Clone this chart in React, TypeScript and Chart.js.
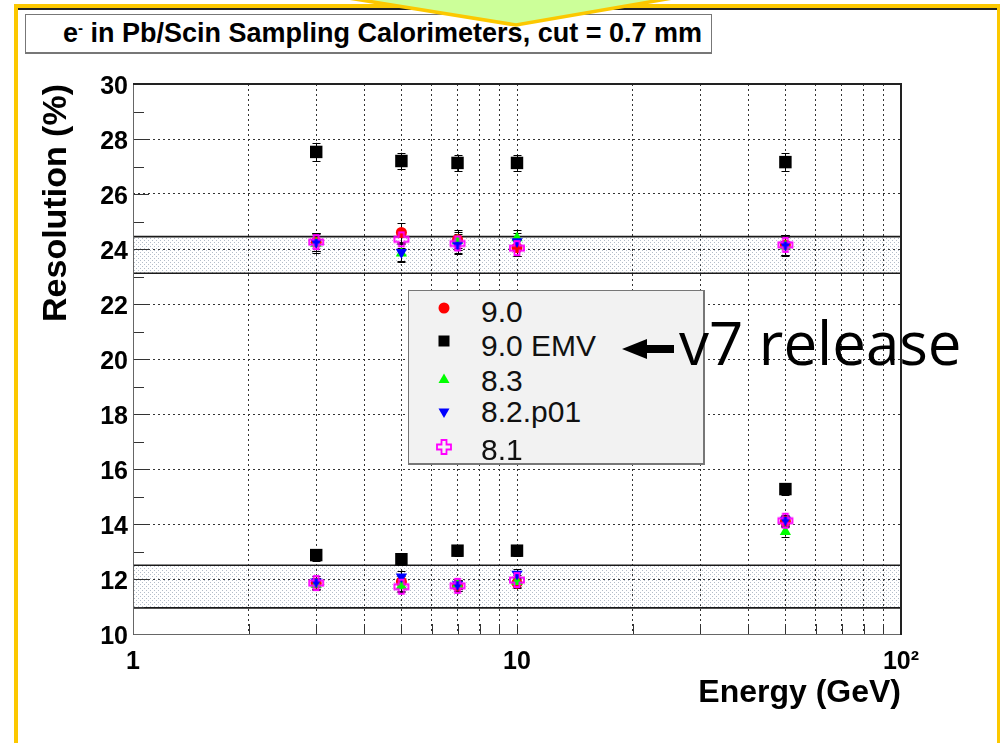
import React, { useEffect, useRef } from 'react';
import { Chart, registerables } from 'chart.js';

Chart.register(...registerables);

// ---------------- data ----------------
const energies = [3, 5, 7, 10, 50];
const seriesNames = ['9.0', '9.0 EMV', '8.3', '8.2.p01', '8.1'];

const res90Upper = [24.25, 24.6, 24.35, 24.05, 24.15];
const res90Lower = [11.85, 11.9, 11.75, 11.85, 14.1];
const resEmvUpper = [27.53, 27.2, 27.13, 27.13, 27.16];
const resEmvLower = [12.87, 12.72, 13.03, 13.03, 15.27];
const res83Upper = [24.2, 23.85, 24.3, 24.4, 24.1];
const res83Lower = [11.8, 11.75, 11.8, 11.9, 13.72];
const res82Upper = [24.25, 23.88, 24.15, 24.27, 24.15];
const res82Lower = [11.9, 12.08, 11.8, 12.18, 14.15];
const res81Upper = [24.25, 24.35, 24.2, 24.03, 24.15];
const res81Lower = [11.85, 11.72, 11.75, 11.96, 14.12];

const errUpper = [0.33, 0.33, 0.33, 0.3, 0.35];
const errLower = [0.2, 0.2, 0.18, 0.18, 0.18];
const errEmvUpper = [0.33, 0.3, 0.3, 0.3, 0.32];
const errEmvLower = [0.22, 0.2, 0.2, 0.2, 0.2];

const bandUpper = [23.12, 24.45];
const bandLower = [10.95, 12.5];

const xTickValues = [1, 2, 3, 4, 5, 6, 7, 8, 9, 10, 20, 30, 40, 50, 60, 70, 80, 90, 100];
const xTickLabels: Record<number, string> = { 1: '1', 10: '10', 100: '10\u00B2' };
const yTickValues = [10, 12, 14, 16, 18, 20, 22, 24, 26, 28, 30];
const yMinorValues = [11, 13, 15, 17, 19, 21, 23, 25, 27, 29];

const FONT = '"Liberation Sans", Arial, Helvetica, sans-serif';

function makeOpenCross(color: string): HTMLCanvasElement {
  const c = document.createElement('canvas');
  c.width = 18;
  c.height = 18;
  const g = c.getContext('2d')!;
  const cx = 9, cy = 9, L = 7, w = 2.5;
  g.beginPath();
  g.moveTo(cx - w, cy - L);
  g.lineTo(cx + w, cy - L);
  g.lineTo(cx + w, cy - w);
  g.lineTo(cx + L, cy - w);
  g.lineTo(cx + L, cy + w);
  g.lineTo(cx + w, cy + w);
  g.lineTo(cx + w, cy + L);
  g.lineTo(cx - w, cy + L);
  g.lineTo(cx - w, cy + w);
  g.lineTo(cx - L, cy + w);
  g.lineTo(cx - L, cy - w);
  g.lineTo(cx - w, cy - w);
  g.closePath();
  g.strokeStyle = color;
  g.lineWidth = 1.8;
  g.stroke();
  return c;
}

function makeDotPattern(ctx: CanvasRenderingContext2D) {
  const c = document.createElement('canvas');
  c.width = 4;
  c.height = 4;
  const g = c.getContext('2d')!;
  g.fillStyle = 'rgba(130,145,165,0.6)';
  g.fillRect(0, 0, 1, 1);
  g.fillRect(2, 2, 1, 1);
  return ctx.createPattern(c, 'repeat');
}

const rootPlugin = {
  id: 'rootDecor',
  beforeDatasetsDraw(chart: any) {
    const { ctx, chartArea: a, scales } = chart;
    const x = scales.x, y = scales.y;
    ctx.save();
    // bands
    const pat = makeDotPattern(ctx);
    [bandUpper, bandLower].forEach((b) => {
      const yTop = y.getPixelForValue(b[1]);
      const yBot = y.getPixelForValue(b[0]);
      if (pat) {
        ctx.fillStyle = pat;
        ctx.fillRect(a.left, yTop, a.right - a.left, yBot - yTop);
      }
      ctx.strokeStyle = '#1a1a1a';
      ctx.lineWidth = 1.6;
      ctx.beginPath();
      ctx.moveTo(a.left, yTop);
      ctx.lineTo(a.right, yTop);
      ctx.moveTo(a.left, yBot);
      ctx.lineTo(a.right, yBot);
      ctx.stroke();
    });
    // ticks
    ctx.strokeStyle = '#333';
    ctx.lineWidth = 1;
    ctx.beginPath();
    yTickValues.forEach((v) => {
      const py = Math.round(y.getPixelForValue(v)) + 0.5;
      ctx.moveTo(a.left, py);
      ctx.lineTo(a.left + 16, py);
    });
    yMinorValues.forEach((v) => {
      const py = Math.round(y.getPixelForValue(v)) + 0.5;
      ctx.moveTo(a.left, py);
      ctx.lineTo(a.left + 11, py);
    });
    xTickValues.forEach((v) => {
      const px = Math.round(x.getPixelForValue(v)) + 0.5;
      ctx.moveTo(px, a.bottom);
      ctx.lineTo(px, a.bottom - 10);
    });
    ctx.stroke();
    // frame
    ctx.strokeStyle = '#666';
    ctx.lineWidth = 1;
    ctx.beginPath();
    ctx.moveTo(a.left + 0.5, a.top);
    ctx.lineTo(a.left + 0.5, a.bottom + 0.5);
    ctx.lineTo(a.right, a.bottom + 0.5);
    ctx.stroke();
    ctx.strokeStyle = '#222';
    ctx.lineWidth = 2;
    ctx.beginPath();
    ctx.moveTo(a.left, a.top);
    ctx.lineTo(a.right, a.top);
    ctx.lineTo(a.right, a.bottom + 1);
    ctx.stroke();
    // error bars
    ctx.strokeStyle = '#000';
    ctx.lineWidth = 1;
    chart.data.datasets.forEach((ds: any) => {
      ds.data.forEach((p: any, i: number) => {
        const e = ds.errors[i];
        const px = Math.round(x.getPixelForValue(p.x)) + 0.5;
        const y1 = y.getPixelForValue(p.y - e);
        const y2 = y.getPixelForValue(p.y + e);
        ctx.beginPath();
        ctx.moveTo(px, y1);
        ctx.lineTo(px, y2);
        ctx.moveTo(px - 4, Math.round(y1) + 0.5);
        ctx.lineTo(px + 4, Math.round(y1) + 0.5);
        ctx.moveTo(px - 4, Math.round(y2) + 0.5);
        ctx.lineTo(px + 4, Math.round(y2) + 0.5);
        ctx.stroke();
      });
    });
    ctx.restore();
  },
};

function pts(upper: number[], lower: number[]) {
  return energies.map((e, i) => ({ x: e, y: upper[i] })).concat(energies.map((e, i) => ({ x: e, y: lower[i] })));
}

function LegendMarker({ kind }: { kind: string }) {
  const s = 18;
  let shape: any = null;
  if (kind === 'circle') shape = <circle cx={9} cy={9} r={5.5} fill="#ff0000" />;
  if (kind === 'square') shape = <rect x={3.5} y={3.5} width={11} height={11} fill="#000" />;
  if (kind === 'up') shape = <polygon points="9,3.5 14.5,13 3.5,13" fill="#00ff00" />;
  if (kind === 'down') shape = <polygon points="3.5,4.5 14.5,4.5 9,14" fill="#0000ff" />;
  if (kind === 'cross')
    shape = (
      <polygon
        points="6.5,2 11.5,2 11.5,6.5 16,6.5 16,11.5 11.5,11.5 11.5,16 6.5,16 6.5,11.5 2,11.5 2,6.5 6.5,6.5"
        fill="none"
        stroke="#ff00ff"
        strokeWidth={1.8}
      />
    );
  return (
    <svg width={s} height={s} style={{ display: 'block' }}>
      {shape}
    </svg>
  );
}

const legendKinds = ['circle', 'square', 'up', 'down', 'cross'];
const legendMarkerY = [308, 341, 379, 413, 447];
const legendTextY = [312, 346, 381, 412, 450];

export default function App() {
  const canvasRef = useRef<HTMLCanvasElement>(null);

  useEffect(() => {
    const canvas = canvasRef.current!;
    const cross = makeOpenCross('#ff00ff');
    const datasets: any[] = [
      { label: seriesNames[0], data: pts(res90Upper, res90Lower), errors: errUpper.concat(errLower), pointStyle: 'circle', pointRadius: 5.5, backgroundColor: '#ff0000', borderColor: '#ff0000', borderWidth: 0, order: 5 },
      { label: seriesNames[1], data: pts(resEmvUpper, resEmvLower), errors: errEmvUpper.concat(errEmvLower), pointStyle: 'rect', pointRadius: 8.8, backgroundColor: '#000', borderColor: '#000', borderWidth: 0, order: 4 },
      { label: seriesNames[2], data: pts(res83Upper, res83Lower), errors: errUpper.concat(errLower), pointStyle: 'triangle', pointRadius: 6.5, backgroundColor: '#00ff00', borderColor: '#00ff00', borderWidth: 0, order: 3 },
      { label: seriesNames[3], data: pts(res82Upper, res82Lower), errors: errUpper.concat(errLower), pointStyle: 'triangle', pointRotation: 180, pointRadius: 6.5, backgroundColor: '#0000ff', borderColor: '#0000ff', borderWidth: 0, order: 2 },
      { label: seriesNames[4], data: pts(res81Upper, res81Lower), errors: errUpper.concat(errLower), pointStyle: cross, pointRadius: 7, backgroundColor: '#ff00ff', borderColor: '#ff00ff', borderWidth: 0, order: 1 },
    ];
    const chart = new Chart(canvas, {
      type: 'scatter',
      data: { datasets },
      options: {
        responsive: false,
        animation: false,
        devicePixelRatio: 1,
        layout: { padding: { left: 0, top: 84, right: 99, bottom: 0 } },
        plugins: { legend: { display: false }, tooltip: { enabled: false }, title: { display: false } },
        scales: {
          x: {
            type: 'logarithmic',
            min: 1,
            max: 100,
            afterBuildTicks: (s: any) => {
              s.ticks = xTickValues.map((v) => ({ value: v }));
            },
            afterFit: (s: any) => {
              s.height = 109;
            },
            grid: { color: '#333', lineWidth: 1, drawTicks: false },
            border: { display: false, dash: [2, 3] },
            ticks: {
              autoSkip: false,
              maxRotation: 0,
              minRotation: 0,
              padding: 13,
              color: '#000',
              font: { family: FONT, size: 25, weight: 'bold' },
              callback: (v: any) => xTickLabels[Number(v)] ?? '',
            },
            title: {
              display: true,
              text: 'Energy (GeV)',
              align: 'end',
              color: '#000',
              font: { family: FONT, size: 32, weight: 'bold' },
              padding: { top: 0, bottom: 31 },
            },
          },
          y: {
            type: 'linear',
            min: 10,
            max: 30,
            afterBuildTicks: (s: any) => {
              s.ticks = yTickValues.map((v) => ({ value: v }));
            },
            afterFit: (s: any) => {
              s.width = 133;
            },
            grid: { color: '#333', lineWidth: 1, drawTicks: false },
            border: { display: false, dash: [2, 3] },
            ticks: {
              padding: 5,
              labelOffset: 3,
              color: '#000',
              font: { family: FONT, size: 25, weight: 'bold' },
              callback: (v: any) => String(v),
            },
            title: {
              display: true,
              text: 'Resolution (%)',
              align: 'end',
              color: '#000',
              font: { family: FONT, size: 34, weight: 'bold' },
              padding: { top: 36, bottom: 0 },
            },
          },
        },
      } as any,
      plugins: [rootPlugin],
    });
    return () => chart.destroy();
  }, []);

  return (
    <div
      style={{
        position: 'fixed',
        left: 0,
        top: 0,
        width: 1000,
        height: 743,
        overflow: 'hidden',
        background: '#fff',
        fontFamily: FONT,
      }}
    >
      {/* slide frame */}
      <div style={{ position: 'absolute', left: 14, top: 4, width: 986, height: 4, background: '#fcc800' }} />
      <div style={{ position: 'absolute', left: 14, top: 4, width: 4, height: 739, background: '#fcc800' }} />
      <div style={{ position: 'absolute', left: 997, top: 4, width: 3, height: 739, background: '#fcc800' }} />
      <div style={{ position: 'absolute', left: 18, top: 8, width: 979, height: 2, background: '#222' }} />

      <canvas ref={canvasRef} width={1000} height={743} style={{ position: 'absolute', left: 0, top: 0, width: 1000, height: 743 }} />

      {/* title pave */}
      <div
        style={{
          position: 'absolute',
          left: 25,
          top: 14,
          width: 687,
          height: 40,
          boxSizing: 'border-box',
          border: '1px solid #777',
          borderBottomWidth: 2,
          background: '#fff',
          font: `bold 27px ${FONT}`,
          lineHeight: '37px',
          whiteSpace: 'nowrap',
          paddingLeft: 37,
          color: '#000',
        }}
      >
        e<span style={{ fontSize: 15, position: 'relative', top: -9 }}>-</span> in Pb/Scin Sampling Calorimeters, cut = 0.7 mm
      </div>

      {/* legend */}
      <div
        style={{
          position: 'absolute',
          left: 408,
          top: 290,
          width: 297,
          height: 175,
          boxSizing: 'border-box',
          border: '1px solid #777',
          borderRightWidth: 2,
          borderBottomWidth: 2,
          background: '#f2f2f2',
        }}
      />
      {seriesNames.map((name, i) => (
        <React.Fragment key={name}>
          <div style={{ position: 'absolute', left: 444 - 9, top: legendMarkerY[i] - 9 }}>
            <LegendMarker kind={legendKinds[i]} />
          </div>
          <div
            style={{
              position: 'absolute',
              left: 481,
              top: legendTextY[i] - 15,
              font: `30px ${FONT}`,
              lineHeight: '30px',
              color: '#111',
              whiteSpace: 'nowrap',
            }}
          >
            {name}
          </div>
        </React.Fragment>
      ))}

      {/* annotation */}
      <svg style={{ position: 'absolute', left: 618, top: 336 }} width={60} height={26}>
        <polygon points="4,13 29,3 29,23" fill="#000" />
        <rect x={28} y={9} width={28} height={8} fill="#000" />
      </svg>
      <div
        style={{
          position: 'absolute',
          left: 679,
          top: 312,
          font: `60px "Comic Sans MS", "Open Sans", sans-serif`,
          lineHeight: '60px',
          color: '#000',
          whiteSpace: 'nowrap',
        }}
      >
        v7 release
      </div>

      {/* green arrow at top */}
      <svg style={{ position: 'absolute', left: 0, top: 0 }} width={1000} height={40}>
        <polygon points="336,-4 516,25 684,-4" fill="#ccff99" stroke="#fcc800" strokeWidth={3.5} strokeLinejoin="miter" />
      </svg>
    </div>
  );
}
